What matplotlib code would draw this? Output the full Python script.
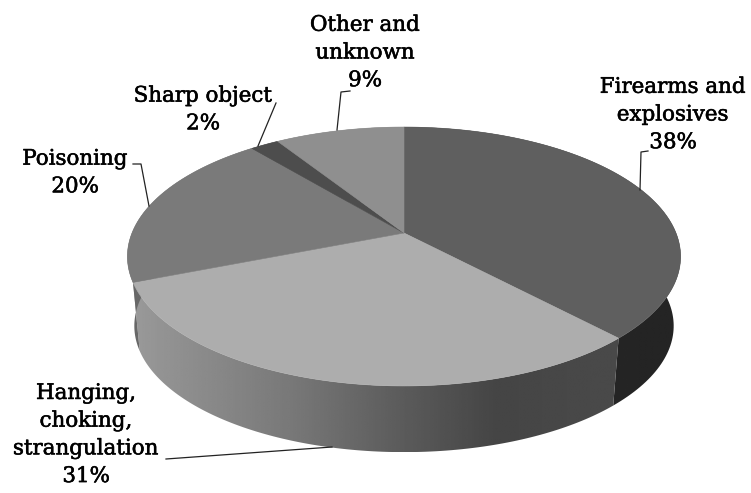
import matplotlib
matplotlib.use('Agg')
import matplotlib.pyplot as plt
import matplotlib.patheffects as pe
from matplotlib.patches import Polygon
import numpy as np

categories = ['Firearms and\nexplosives', 'Hanging,\nchoking,\nstrangulation', 'Poisoning',
              'Sharp object', 'Other and\nunknown']
shares = [38, 31, 20, 2, 9]

top_colours = ['#5f5f5f', '#adadad', '#7a7a7a', '#4d4d4d', '#8f8f8f']
# wall shade at the left and right end of each slice
wall_shades = [(0.17, 0.14), (0.6, 0.27), (0.4, 0.5), (0.3, 0.3), (0.5, 0.5)]

label_pos = [(673, 115), (86, 435), (75, 173), (203, 110), (365, 53)]
leaders = [
    [(640, 190), (641, 152), (648, 151)],
    [(332, 447), (166, 459)],
    [(149, 206), (141, 164), (133, 164)],
    [(258, 146), (276, 103)],
    [(337, 130), (341, 92), (350, 91)],
]

# perspective of the pie, in image pixels
cx, cy = 404, 233
a, b, k = 272, 125.2, 0.1815
depth, shrink = 70, 0.975


def rim(theta, wall=False):
    u, v = np.sin(theta), np.cos(theta)
    w = 1 + k * v
    x, y = a * u / w, b * v / w
    if wall:
        return cx + shrink * x, cy + depth - shrink * y
    return cx + x, cy - y


fig = plt.figure(figsize=(7.51, 4.93), dpi=100)
ax = fig.add_axes([0, 0, 1, 1])

edges = np.cumsum([0] + shares) / sum(shares) * 2 * np.pi

# side walls with a horizontal gradient
for i in range(len(shares)):
    t = np.linspace(edges[i], edges[i + 1], 120)
    x1, y1 = rim(t)
    x2, y2 = rim(t, wall=True)
    xs = np.r_[x1, x2[::-1]]
    ys = np.r_[y1, y2[::-1]]
    poly = Polygon(np.c_[xs, ys], closed=True, fc='none', ec='none', zorder=1)
    ax.add_patch(poly)
    shade = np.linspace(wall_shades[i][0], wall_shades[i][1], 256)[None, :]
    if i == 1:
        # mid grey on the left, dark towards the right end
        shade = np.interp(np.linspace(0, 1, 256), [0, 0.33, 0.55, 0.75, 1],
                          [0.6, 0.47, 0.36, 0.27, 0.29])[None, :]
    im = ax.imshow(shade, cmap='gray', vmin=0, vmax=1, aspect='auto', zorder=1,
                   extent=[xs.min(), xs.max(), ys.max(), ys.min()], interpolation='bilinear')
    im.set_clip_path(poly)

ax.set_xlim(0, 751)
ax.set_ylim(493, 0)
ax.axis('off')

# top face
for i in range(len(shares)):
    t = np.linspace(edges[i], edges[i + 1], 120)
    x1, y1 = rim(t)
    ax.fill(np.r_[cx, x1], np.r_[cy, y1], color=top_colours[i], lw=0.4, zorder=2)

for pts in leaders:
    ax.plot(*zip(*pts), color='#222222', lw=0.9, zorder=3)

for name, share, (x, y) in zip(categories, shares, label_pos):
    ax.text(x, y, f'{name}\n{share}%', ha='center', va='center', color='#000000', zorder=4,
            family='DejaVu Serif', fontsize=15.4, linespacing=1.58,
            path_effects=[pe.withStroke(linewidth=0.4, foreground='#000000')])

fig.savefig('out.png', dpi=100)
